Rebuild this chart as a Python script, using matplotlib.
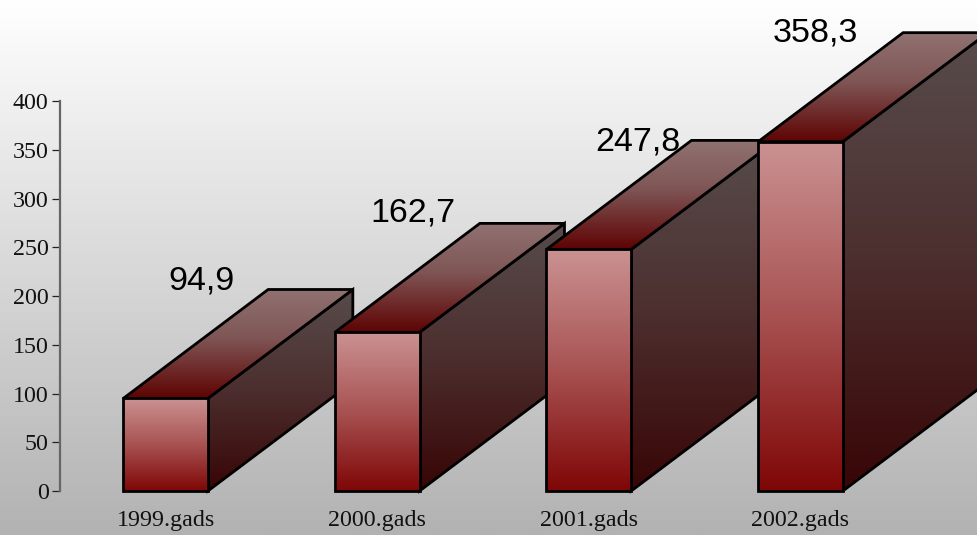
import numpy as np
import matplotlib
matplotlib.use("Agg")
import matplotlib.pyplot as plt
from matplotlib.patches import Polygon
from matplotlib.colors import to_rgb

years = ["1999.gads", "2000.gads", "2001.gads", "2002.gads"]
values = [94.9, 162.7, 247.8, 358.3]
value_labels = ["94,9", "162,7", "247,8", "358,3"]
y_ticks = [0, 50, 100, 150, 200, 250, 300, 350, 400]

# how far the value text sits from the bar front, in category / value units
label_dx = [0.17, 0.17, 0.23, 0.07]
label_dy = [121, 122, 110, 111]

BAR_HALF = 0.2
DEPTH_X = 0.685
DEPTH_Y = 111.8
XLIM = (-0.782, 3.834)
YLIM = (-45.1, 503.6)

FRONT = [(0.0, "#cb9292"), (0.5, "#a85252"), (1.0, "#7f0606")]
TOP = [(0.0, "#917272"), (0.45, "#7f5656"), (1.0, "#5f0303")]
SIDE = [(0.0, "#584c4c"), (0.5, "#4c2e2e"), (1.0, "#380505")]


def gradient(stops, n=256):
    # vertical colour ramp, first stop at the top
    pos = [s[0] for s in stops]
    rgb = np.array([to_rgb(s[1]) for s in stops])
    t = np.linspace(0, 1, n)
    return np.stack([np.interp(t, pos, rgb[:, i]) for i in range(3)], axis=1)[:, None, :]


def shaded_face(ax, corners, stops, zorder):
    pts = np.array(corners)
    extent = [pts[:, 0].min(), pts[:, 0].max(), pts[:, 1].min(), pts[:, 1].max()]
    im = ax.imshow(gradient(stops), extent=extent, origin="upper", aspect="auto",
                   interpolation="bilinear", zorder=zorder)
    outline = Polygon(corners, closed=True, facecolor="none", edgecolor="black",
                      linewidth=2.0, joinstyle="miter", zorder=zorder + 0.1)
    ax.add_patch(outline)
    im.set_clip_path(outline)


fig = plt.figure(figsize=(9.77, 5.35), dpi=100)
ax = fig.add_axes([0, 0, 1, 1])
ax.patch.set_visible(False)

# page background fades from white down to grey
ax.imshow(gradient([(0.0, "#ffffff"), (1.0, "#b2b2b2")]), extent=[0, 1, 0, 1],
          transform=ax.transAxes, aspect="auto", zorder=0)

for i, (year, val) in enumerate(zip(years, values)):
    x0, x1 = i - BAR_HALF, i + BAR_HALF
    z = 2 + i
    shaded_face(ax, [(x1, 0), (x1 + DEPTH_X, DEPTH_Y), (x1 + DEPTH_X, val + DEPTH_Y), (x1, val)], SIDE, z)
    shaded_face(ax, [(x0, val), (x1, val), (x1 + DEPTH_X, val + DEPTH_Y), (x0 + DEPTH_X, val + DEPTH_Y)], TOP, z + 0.2)
    shaded_face(ax, [(x0, 0), (x1, 0), (x1, val), (x0, val)], FRONT, z + 0.4)
    ax.text(i + label_dx[i], val + label_dy[i], value_labels[i], ha="center", va="center",
            family="Liberation Sans", fontsize=24.5, color="black", zorder=10)

ax.set_xlim(XLIM)
ax.set_ylim(YLIM)

for name in ["top", "right", "bottom"]:
    ax.spines[name].set_visible(False)
ax.spines["left"].set_position(("data", -0.497))
ax.spines["left"].set_bounds(0, 400)
ax.spines["left"].set_color("#666666")
ax.spines["left"].set_linewidth(1.6)
ax.spines["bottom"].set_position(("data", 0))

ax.set_yticks(y_ticks)
ax.set_xticks(range(len(years)))
ax.set_xticklabels(years)
ax.tick_params(axis="y", length=6, width=0.9, color="#222222", pad=2.5, labelsize=17.3, labelcolor="#111111")
ax.tick_params(axis="x", length=0, pad=14, labelsize=17.3, labelcolor="#111111")
for lab in ax.get_xticklabels() + ax.get_yticklabels():
    lab.set_family("Liberation Serif")

fig.savefig("out.png", dpi=100)
plt.close(fig)
